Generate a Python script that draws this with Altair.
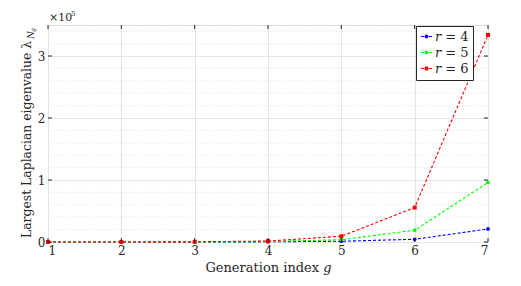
import altair as alt
import pandas as pd

generations = [1, 2, 3, 4, 5, 6, 7]
series_names = ["𝑟 = 4", "𝑟 = 5", "𝑟 = 6"]
values_r4 = [5, 20, 77, 310, 1230, 4400, 21000]
values_r5 = [6, 30, 150, 750, 3750, 19000, 96000]
values_r6 = [7, 45, 260, 1560, 9300, 55500, 334000]
series_colors = ["#0000ff", "#00ff00", "#ff0000"]
y_major = [0, 100000, 200000, 300000]
y_minor = [20000, 40000, 60000, 80000, 120000, 140000, 160000, 180000,
           220000, 240000, 260000, 280000, 320000, 340000]

W, H = 440, 217
FONT = "DejaVu Serif"

rows = []
for name, vals in zip(series_names, [values_r4, values_r5, values_r6]):
    for g, v in zip(generations, vals):
        rows.append({"g": g, "v": v, "series": name})
df = pd.DataFrame(rows)

xscale = alt.Scale(domain=[1, 7], nice=False, zero=False)
yscale = alt.Scale(domain=[0, 350000], nice=False)
cscale = alt.Scale(domain=series_names, range=series_colors)

circle_path = "M-1,0L-0.45,0M0.45,0L1,0M0.28,0A0.28,0.28,0,1,1,-0.28,0A0.28,0.28,0,1,1,0.28,0Z"
square_path = "M-1,0L-0.45,0M0.45,0L1,0M-0.26,-0.26L0.26,-0.26L0.26,0.26L-0.26,0.26Z"
sscale = alt.Scale(domain=series_names, range=[circle_path, circle_path, square_path])

base = alt.Chart(df)

lines = base.mark_line(strokeWidth=1.1, strokeDash=[3, 2]).encode(
    x=alt.X("g:Q", scale=xscale,
            axis=alt.Axis(values=generations, format="d", grid=True, gridColor="#e3e3e3",
                          ticks=False, domain=False, labelFont=FONT, labelFontSize=12,
                          labelColor="#262626", labelPadding=3,
                          title="Generation index 𝑔", titleFont=FONT, titleFontSize=13,
                          titleFontWeight="normal", titleColor="#262626", titlePadding=5)),
    y=alt.Y("v:Q", scale=yscale,
            axis=alt.Axis(values=y_major, labelExpr="datum.value / 100000", grid=True,
                          gridColor="#e3e3e3", ticks=False, domain=False, labelFont=FONT,
                          labelFontSize=12, labelColor="#262626", labelPadding=3, title=None)),
    color=alt.Color("series:N", scale=cscale, legend=None),
    detail="series:N",
)

pts_circle = base.transform_filter(alt.datum.series != series_names[2]).mark_circle(size=14, opacity=1).encode(
    x=alt.X("g:Q"), y=alt.Y("v:Q"), color=alt.Color("series:N", scale=cscale, legend=None))
pts_square = base.transform_filter(alt.datum.series == series_names[2]).mark_square(size=16, opacity=1).encode(
    x=alt.X("g:Q"), y=alt.Y("v:Q"), color=alt.Color("series:N", scale=cscale, legend=None))

minor = alt.Chart(pd.DataFrame({"m": y_minor})).mark_rule(
    color="#dcdcdc", strokeWidth=0.8, strokeDash=[1, 2]).encode(
    y=alt.Y("m:Q"), x=alt.value(0), x2=alt.value(W))

tick_df_x = pd.DataFrame({"g": generations})
tick_df_y = pd.DataFrame({"v": y_major})
tk = dict(color="#262626", strokeWidth=1)
xt_bot = alt.Chart(tick_df_x).mark_rule(**tk).encode(x="g:Q", y=alt.value(H), y2=alt.value(H - 4))
xt_top = alt.Chart(tick_df_x).mark_rule(**tk).encode(x="g:Q", y=alt.value(0), y2=alt.value(4))
yt_l = alt.Chart(tick_df_y).mark_rule(**tk).encode(y="v:Q", x=alt.value(0), x2=alt.value(4))
yt_r = alt.Chart(tick_df_y).mark_rule(**tk).encode(y="v:Q", x=alt.value(W), x2=alt.value(W - 4))

one = pd.DataFrame({"a": [0]})
ytitle = alt.Chart(one).mark_text(text="Largest Laplacian eigenvalue λ", font=FONT, fontSize=12.4,
                                  angle=270, align="left", baseline="middle", color="#262626").encode(
    x=alt.value(-21), y=alt.value(213))
ysub = alt.Chart(one).mark_text(text="N", font=FONT, fontSize=9, fontStyle="italic",
                                angle=270, align="left", baseline="middle", color="#262626").encode(
    x=alt.value(-17), y=alt.value(14))
ysub2 = alt.Chart(one).mark_text(text="g", font=FONT, fontSize=6, fontStyle="italic",
                                 angle=270, align="left", baseline="middle", color="#262626").encode(
    x=alt.value(-15), y=alt.value(7))
exp1 = alt.Chart(one).mark_text(text="×10", font=FONT, fontSize=11, align="left",
                                baseline="alphabetic", color="#262626").encode(
    x=alt.value(1), y=alt.value(-4))
exp2 = alt.Chart(one).mark_text(text="5", font=FONT, fontSize=7, align="left",
                                baseline="alphabetic", color="#262626").encode(
    x=alt.value(23), y=alt.value(-9))

legend_layer = alt.Chart(pd.DataFrame({"series": series_names})).transform_filter("false").mark_point(
    filled=True).encode(
    fill=alt.Fill("series:N", scale=cscale, legend=alt.Legend(title=None)),
    stroke=alt.Stroke("series:N", scale=cscale, legend=alt.Legend(title=None)),
    shape=alt.Shape("series:N", scale=sscale,
                    legend=alt.Legend(title=None, orient="none", legendX=368, legendY=1,
                                      strokeColor="#262626", fillColor="white", padding=4,
                                      symbolSize=121, symbolStrokeWidth=1, symbolOpacity=1,
                                      labelFont=FONT, labelFontSize=13, labelColor="#262626",
                                      labelOffset=2, rowPadding=2, cornerRadius=0)),
)

chart = alt.layer(minor, lines, pts_circle, pts_square, xt_bot, xt_top, yt_l, yt_r,
                  ytitle, ysub, ysub2, exp1, exp2, legend_layer).resolve_scale(
    fill="independent", stroke="independent", shape="independent").properties(
    width=W, height=H,
    padding={"left": 40, "top": 17, "right": 25, "bottom": 36},
    autosize=alt.AutoSizeParams(type="none"),
).configure_view(stroke="#262626", strokeWidth=1).configure(background="white")

chart.save("out.html", embed_options={"renderer": "svg", "actions": False})
